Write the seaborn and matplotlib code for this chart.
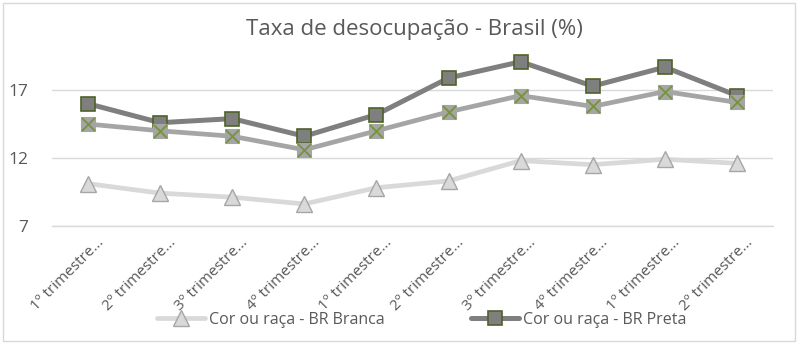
import matplotlib
matplotlib.use("Agg")
import matplotlib.pyplot as plt
import matplotlib.transforms as mtransforms
import seaborn as sns
import pandas as pd
import numpy as np
from matplotlib.ticker import FixedLocator

sns.set_theme(style="white")
plt.rcParams['font.family'] = ['Open Sans', 'DejaVu Sans']

categories = ["1º trimestre...", "2º trimestre...", "3º trimestre...", "4º trimestre...",
              "1º trimestre...", "2º trimestre...", "3º trimestre...", "4º trimestre...",
              "1º trimestre...", "2º trimestre..."]
branca = [10.1, 9.4, 9.1, 8.6, 9.8, 10.3, 11.8, 11.5, 11.9, 11.6]
preta = [16.0, 14.6, 14.9, 13.6, 15.2, 17.9, 19.1, 17.3, 18.7, 16.6]
parda = [14.5, 14.0, 13.6, 12.6, 14.0, 15.4, 16.6, 15.8, 16.9, 16.1]
yticks = [7, 12, 17]

pos = list(range(len(categories)))
df = pd.DataFrame({"pos": pos, "branca": branca, "preta": preta, "parda": parda})

fig = plt.figure(figsize=(7.99, 3.44), dpi=100)
ax = fig.add_axes([52/799, 0.344, (773-52)/799, 0.512])

sns.lineplot(data=df, x="pos", y="branca", ax=ax, color="#d9d9d9", linewidth=3.4,
             marker="^", markersize=12, markerfacecolor="#d9d9d9",
             markeredgecolor="#a6a6a6", markeredgewidth=1.0,
             label="Cor ou raça - BR Branca", zorder=3)
sns.lineplot(data=df, x="pos", y="preta", ax=ax, color="#7f7f7f", linewidth=3.6,
             marker="s", markersize=10, markerfacecolor="#7f7f7f",
             markeredgecolor="#4f6228", markeredgewidth=1.2,
             label="Cor ou raça - BR Preta", zorder=4)
sns.lineplot(data=df, x="pos", y="parda", ax=ax, color="#a5a5a5", linewidth=3.4,
             marker="s", markersize=10, markerfacecolor="#a5a5a5",
             markeredgecolor="#a5a5a5", markeredgewidth=0.8,
             label="_nolegend_", zorder=5)
sns.scatterplot(data=df, x="pos", y="parda", ax=ax, marker="x", s=90,
                color="#77933c", linewidth=1.3, zorder=6, legend=False)

ax.set_xlim(-0.5, len(categories) - 0.5)
ax.set_ylim(7, 20)
ax.set_yticks(yticks)
ax.yaxis.grid(True, color="#d9d9d9", linewidth=1.0)
ax.set_axisbelow(True)
for s in ["top", "right", "left"]:
    ax.spines[s].set_visible(False)
ax.spines["bottom"].set_color("#d9d9d9")
ax.spines["bottom"].set_linewidth(1.0)

ax.set_xticks(pos)
ax.set_xticklabels(categories, rotation=45, ha="right", rotation_mode="anchor",
                   fontsize=11, color="#595959")
ax.tick_params(axis="x", which="major", length=0, pad=4)
offset = mtransforms.ScaledTranslation(8/100, -4/100, fig.dpi_scale_trans)
for lbl in ax.get_xticklabels():
    lbl.set_transform(lbl.get_transform() + offset)
ax.xaxis.set_minor_locator(FixedLocator(np.arange(-0.5, len(categories), 1.0)))
ax.tick_params(axis="x", which="minor", length=5, color="#d9d9d9", width=1.0, direction="out")
ax.tick_params(axis="y", length=0, labelsize=12.5, labelcolor="#595959", pad=17)
ax.set_xlabel("")
ax.set_ylabel("")

fig.text(414/799, 1 - 30/344, "Taxa de desocupação - Brasil (%)", ha="center", va="center",
         fontsize=16, color="#595959")

handles, labels = ax.get_legend_handles_labels()
leg = ax.legend(handles, labels, ncol=2, frameon=False, loc="center",
                bbox_to_anchor=(422/799, 1 - 320/344), bbox_transform=fig.transFigure,
                fontsize=11.5, labelcolor="#595959", handlelength=3.0, columnspacing=5.4,
                handletextpad=0.25)

border = plt.Rectangle((3/799, 3/344), 792/799, 338/344, transform=fig.transFigure,
                       fill=False, edgecolor="#d9d9d9", linewidth=1.0)
fig.patches.append(border)

fig.savefig("out.png", dpi=100, facecolor="white")
